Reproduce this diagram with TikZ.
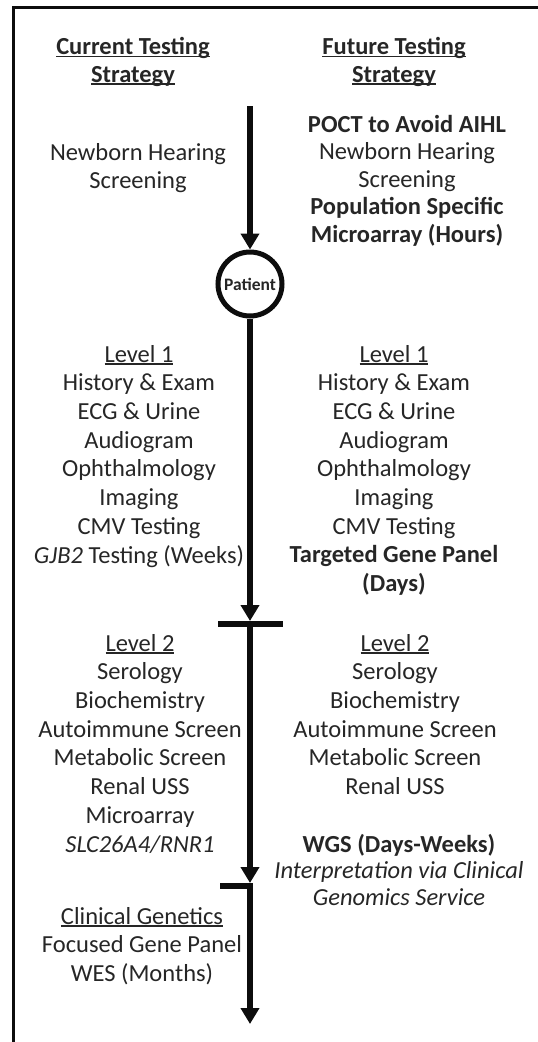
\documentclass[tikz,border=0pt]{standalone}
\usepackage{fontspec}
\setmainfont{Carlito}
\usetikzlibrary{arrows.meta}
\definecolor{txt}{HTML}{262626}
\definecolor{ink}{HTML}{0D0D0D}
\newcommand\myul[1]{\setbox0\hbox{#1}\rlap{\rule[-2.6pt]{\wd0}{1.6pt}}\box0}
\begin{document}
\begin{tikzpicture}[x=1pt,y=-1pt,
  txtblock/.style={align=center, inner sep=0pt, text=txt, font=\fontsize{24.5}{28.7}\selectfont, anchor=base},
  topblock/.style={txtblock, font=\fontsize{24.5}{27.4}\selectfont},
  wgsblock/.style={txtblock, font=\fontsize{24.5}{26.5}\selectfont},
  shaft/.style={line width=5.5pt, draw=ink},
  tipd/.style={-{Triangle[width=18pt,length=16pt]}},
  bar/.style={line width=6.5pt, draw=ink}]
\useasboundingbox (0,0) rectangle (538,1042);
\draw[line width=2.6pt, draw=ink] (538,7.5) -- (13.5,7.5) -- (13.5,1042);

% base anchor = baseline of the last line of each block
\node[topblock] (curhead) at (133,82) {\textbf{\myul{Current Testing}}\\\textbf{\myul{Strategy}}};
\node[topblock] (futhead) at (394,82) {\textbf{\myul{Future Testing}}\\\textbf{\myul{Strategy}}};
\node[topblock] (curscreen) at (138,188) {Newborn Hearing\\Screening};
\node[topblock] (futscreen) at (407,242) {\textbf{POCT to Avoid AIHL}\\Newborn Hearing\\Screening\\\textbf{Population Specific}\\\textbf{Microarray (Hours)}};

\coordinate (start) at (250,106);
\node[circle, draw=ink, line width=5pt, minimum size=64pt, inner sep=0pt, text=txt,
      font=\fontsize{17.5}{20}\selectfont\bfseries] (patient) at (250,284) {Patient};
\draw[shaft, tipd] (start) -- (patient.north);

\node[txtblock] (cur1) at (139,563) {\myul{Level 1}\\History \& Exam\\ECG \& Urine\\Audiogram\\Ophthalmology\\Imaging\\CMV Testing\\\textit{GJB2} Testing (Weeks)};
\node[txtblock] (fut1) at (394,591.6) {\myul{Level 1}\\History \& Exam\\ECG \& Urine\\Audiogram\\Ophthalmology\\Imaging\\CMV Testing\\\textbf{Targeted Gene Panel}\\\textbf{(Days)}};

\coordinate (bar1l) at (218,624);
\coordinate (bar1r) at (283,624);
\coordinate (bar1) at (250,624);
\coordinate (bar1top) at (250,621);
\draw[bar] (bar1l) -- (bar1r);
\draw[shaft, tipd] (patient.south) -- (bar1top);

\node[txtblock] (cur2) at (140,852) {\myul{Level 2}\\Serology\\Biochemistry\\Autoimmune Screen\\Metabolic Screen\\Renal USS\\Microarray\\\textit{SLC26A4/RNR1}};
\node[txtblock] (fut2) at (395,794.5) {\myul{Level 2}\\Serology\\Biochemistry\\Autoimmune Screen\\Metabolic Screen\\Renal USS};
\node[wgsblock] (wgs) at (399,905) {\textbf{WGS (Days-Weeks)}\\\textit{Interpretation via Clinical}\\\textit{Genomics Service}};

\coordinate (bar2l) at (220,886);
\coordinate (bar2r) at (253,886);
\coordinate (bar2) at (250,886);
\coordinate (bar2top) at (250,883);
\draw[bar] (bar2l) -- (bar2r);
\draw[shaft, tipd] (bar1) -- (bar2top);

\node[txtblock] (cg) at (142,981.4) {\myul{Clinical Genetics}\\Focused Gene Panel\\WES (Months)};
\coordinate (end) at (250,1024);
\draw[shaft, tipd] (bar2) -- (end);
\end{tikzpicture}
\end{document}
